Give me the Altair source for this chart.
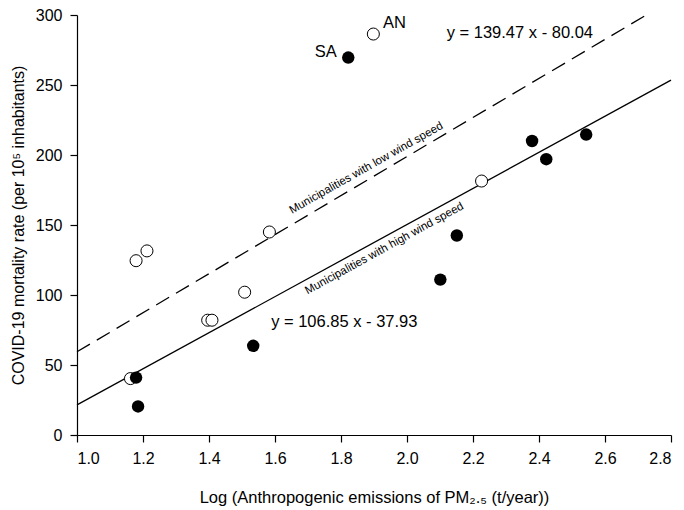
import altair as alt
import pandas as pd

# Municipalities with low wind speed (open circles)
low_x = [1.162, 1.179, 1.212, 1.396, 1.409, 1.508, 1.583, 1.898, 2.226]
low_y = [40.3, 124.5, 131.5, 82.0, 82.0, 102.0, 145.0, 286.4, 181.4]
# Municipalities with high wind speed (filled circles)
high_x = [1.179, 1.185, 1.534, 1.822, 2.101, 2.151, 2.379, 2.422, 2.543]
high_y = [41.0, 20.4, 63.7, 269.6, 111.0, 142.5, 210.0, 197.0, 214.6]

# fitted lines (end points)
low_line_x = [1.0, 2.725]
low_line_y = [59.43, 300.0]
high_line_x = [1.0, 2.8]
high_line_y = [21.5, 253.5]

# annotations
eq_text = ["y = 139.47 x - 80.04", "y = 106.85 x - 37.93"]
eq_x = [2.342, 1.81]
eq_y = [287.0, 81.0]

lab_text = ["SA", "AN"]
lab_x = [1.787, 1.927]
lab_y = [273.5, 294.0]
lab_align = ["right", "left"]

line_text = ["Municipalities with low  wind speed", "Municipalities with high wind speed"]
line_tx = [1.877, 1.932]
line_ty = [190.5, 133.0]
line_angle = [330.5, 331.2]

x_ticks = [1.0, 1.2, 1.4, 1.6, 1.8, 2.0, 2.2, 2.4, 2.6, 2.8]
y_ticks = [0, 50, 100, 150, 200, 250, 300]

FONT = "Liberation Sans"

xs = alt.Scale(domain=[1.0, 2.8], nice=False, zero=False)
ys = alt.Scale(domain=[0, 300], nice=False)

xenc = alt.X("x:Q", scale=xs,
             axis=alt.Axis(values=x_ticks, format=".1f",
                           title="Log (Anthropogenic emissions of PM₂.₅ (t/year))"))
yenc = alt.Y("y:Q", scale=ys,
             axis=alt.Axis(values=y_ticks,
                           title="COVID-19 mortality rate (per 10⁵ inhabitants)"))

low_df = pd.DataFrame({"x": low_x, "y": low_y})
high_df = pd.DataFrame({"x": high_x, "y": high_y})
lowline_df = pd.DataFrame({"x": low_line_x, "y": low_line_y})
highline_df = pd.DataFrame({"x": high_line_x, "y": high_line_y})
eq_df = pd.DataFrame({"x": eq_x, "y": eq_y, "t": eq_text})
lab_df = pd.DataFrame({"x": lab_x, "y": lab_y, "t": lab_text, "a": lab_align})
lt_df = pd.DataFrame({"x": line_tx, "y": line_ty, "t": line_text, "ang": line_angle})

dashed = alt.Chart(lowline_df).mark_line(color="black", strokeWidth=1.3,
                                         strokeDash=[15, 8]).encode(x=xenc, y=yenc)
solid = alt.Chart(highline_df).mark_line(color="black", strokeWidth=1.3).encode(x=xenc, y=yenc)

open_pts = alt.Chart(low_df).mark_point(shape="circle", filled=True, fill="white",
                                        stroke="black", strokeWidth=1, size=145,
                                        opacity=1).encode(x=xenc, y=yenc)
filled_pts = alt.Chart(high_df).mark_circle(color="black", size=155,
                                            opacity=1).encode(x=xenc, y=yenc)

eqs = alt.Chart(eq_df).mark_text(font=FONT, fontSize=16.5, color="black").encode(
    x=xenc, y=yenc, text="t:N")

sa = alt.Chart(lab_df[lab_df.a == "right"]).mark_text(font=FONT, fontSize=16.5, color="black",
                                                        align="right").encode(
    x=xenc, y=yenc, text="t:N")
an = alt.Chart(lab_df[lab_df.a == "left"]).mark_text(font=FONT, fontSize=16.5, color="black",
                                                       align="left").encode(
    x=xenc, y=yenc, text="t:N")

lt1 = alt.Chart(lt_df.iloc[[0]]).mark_text(font=FONT, fontSize=11.5, color="black",
                                           angle=line_angle[0]).encode(x=xenc, y=yenc, text="t:N")
lt2 = alt.Chart(lt_df.iloc[[1]]).mark_text(font=FONT, fontSize=11.5, color="black",
                                           angle=line_angle[1]).encode(x=xenc, y=yenc, text="t:N")

chart = alt.layer(dashed, solid, open_pts, filled_pts, eqs, sa, an, lt1, lt2).properties(
    width=594, height=420,
    padding={"left": 69, "top": 7, "right": 5, "bottom": 75},
    autosize=alt.AutoSizeParams(type="none"),
).configure_view(stroke=None).configure_axis(
    grid=False, domainColor="black", tickColor="black", labelColor="black",
    titleColor="black", labelFont=FONT, titleFont=FONT, labelFontSize=16,
    titleFontSize=16, titleFontWeight="normal", tickSize=7, domainWidth=1.2,
    tickWidth=1.2, labelPadding=8,
).configure_axisY(titlePadding=9).configure_axisX(titlePadding=23, titleFontSize=16.5)

chart.save("out.html", embed_options={"renderer": "svg", "actions": False})
